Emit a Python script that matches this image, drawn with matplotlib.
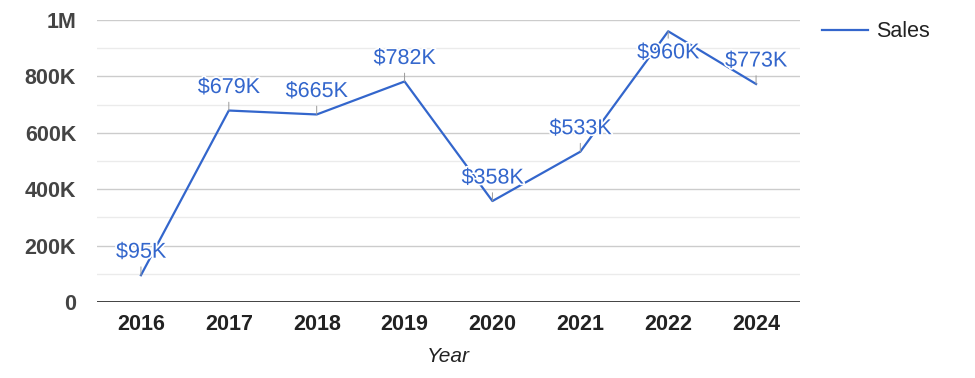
import matplotlib.pyplot as plt
import matplotlib.patheffects as pe

years = ['2016', '2017', '2018', '2019', '2020', '2021', '2022', '2024']
sales = [95000, 679000, 665000, 782000, 358000, 533000, 960000, 773000]
sales_labels = ['$95K', '$679K', '$665K', '$782K', '$358K', '$533K', '$960K', '$773K']
y_ticks = [0, 200000, 400000, 600000, 800000, 1000000]
y_tick_labels = ['0', '200K', '400K', '600K', '800K', '1M']

blue = '#3366cc'
plt.rcParams['font.family'] = ['Liberation Sans', 'DejaVu Sans']

fig = plt.figure(figsize=(9.75, 3.78), dpi=100)
ax = fig.add_axes([97/975, 1-302/378, 703/975, 282/378])

x = list(range(len(years)))

# gridlines: major + lighter minor in between
for v in range(100000, 1000001, 100000):
    col = '#cccccc' if v % 200000 == 0 else '#ebebeb'
    ax.axhline(v, color=col, lw=1, zorder=0)
ax.axhline(0, color='#333333', lw=1.3, zorder=1)

line, = ax.plot(x, sales, color=blue, lw=1.6, label='Sales', zorder=2)

for xi, yi, lab in zip(x, sales, sales_labels):
    # no room above the top point, so that label goes below
    if yi > 900000:
        off, va = -8, 'top'
    else:
        off, va = 9, 'bottom'
    ax.annotate(lab, (xi, yi), xytext=(0, off), textcoords='offset points',
                ha='center', va=va, fontsize=15.5, color=blue, zorder=3,
                path_effects=[pe.withStroke(linewidth=2.5, foreground='white')],
                arrowprops=dict(arrowstyle='-', color='#999999', lw=0.7,
                                shrinkA=1, shrinkB=0))

ax.set_xlim(-0.5, len(years) - 0.5)
ax.set_ylim(0, 1000000)
ax.set_xticks(x)
ax.set_xticklabels(years, fontsize=15.5, fontweight='bold', color='#222222')
ax.set_yticks(y_ticks)
ax.set_yticklabels(y_tick_labels, fontsize=15.5, fontweight='bold', color='#444444')
ax.tick_params(axis='both', length=0)
ax.tick_params(axis='y', pad=15)
ax.tick_params(axis='x', pad=9)
for s in ax.spines.values():
    s.set_visible(False)

ax.set_xlabel('Year', fontsize=15, style='italic', color='#222222', labelpad=8)

fig.legend(handles=[line], loc='upper left', bbox_to_anchor=(803/975, 1-2/378),
           frameon=False, fontsize=15.5, handlelength=2.1, handletextpad=0.4,
           labelcolor='#222222')

fig.savefig('out.png', dpi=100)
